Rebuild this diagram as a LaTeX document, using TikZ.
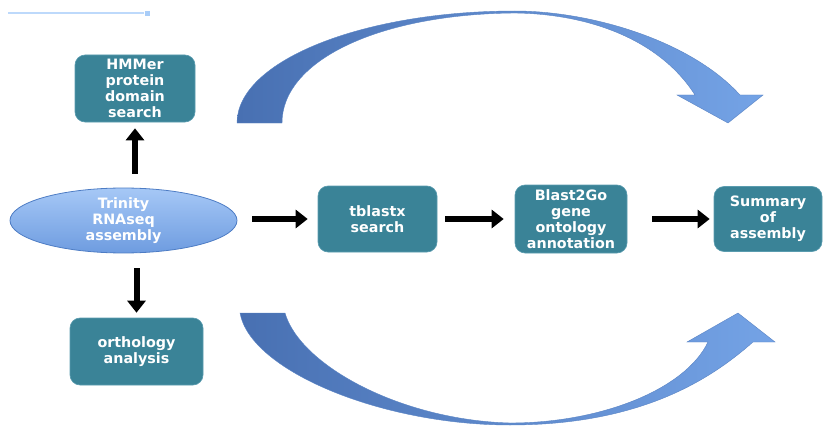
\documentclass[tikz,border=0pt]{standalone}
\usepackage{fontspec}
\setmainfont{DejaVu Sans}
\usetikzlibrary{shapes.geometric,arrows.meta,calc}
\definecolor{boxfill}{HTML}{3A8397}
\definecolor{boxedge}{HTML}{5A9CAF}
\definecolor{elltop}{HTML}{A6C8F6}
\definecolor{ellbot}{HTML}{6E9CE0}
\definecolor{elledge}{HTML}{4D7CC4}
\definecolor{arrL}{HTML}{4870B2}
\definecolor{arrR}{HTML}{74A3E6}
\definecolor{arrEdge}{HTML}{5A84C4}
\definecolor{topline}{HTML}{BDD9FB}
\definecolor{topsq}{HTML}{A9CDF8}
\begin{document}
\begin{tikzpicture}[x=1pt,y=-1pt,
  txt/.style={text=white, font=\bfseries\fontsize{14.3}{16}\selectfont, align=center, inner sep=0pt},
  box/.style={txt, draw=boxedge, fill=boxfill, line width=0.6pt, rounded corners=10pt},
  blk/.style={draw=black, line width=6pt, -{Triangle[width=18pt,length=12pt]}},
  band/.style={left color=arrL, right color=arrR, draw=arrEdge, line width=0.4pt}]
\useasboundingbox (0,0) rectangle (828,428);

% top-left line
\draw[line width=2pt, topline] (8,13.5) -- (144,13.5);
\fill[topsq] (145,11) rectangle (150,16);

% curved arrows
\shade[band]
 (237,123) .. controls (237,61) and (362,11) .. (515,11)
 .. controls (590,11) and (690,40) .. (740,95)
 -- (763,95) -- (728,123) -- (677,95) -- (695,95)
 .. controls (660,40) and (590,14) .. (515,13)
 .. controls (380,14) and (282,60) .. (282,123) -- cycle;
\shade[band]
 (240,313) .. controls (250,370) and (380,425) .. (510,425)
 .. controls (640,425) and (710,380) .. (753,342)
 -- (775,342) -- (738,313) -- (687,342) -- (708,342)
 .. controls (685,390) and (600,423) .. (510,423)
 .. controls (400,420) and (300,365) .. (285,313) -- cycle;

% nodes
\node[box, minimum width=120pt, minimum height=67pt] (hm) at (135,88.5) {HMMer\\protein\\domain\\search};
\node[txt, ellipse, top color=elltop, bottom color=ellbot, draw=elledge, line width=0.8pt,
      minimum width=227pt, minimum height=55pt] (ell) at (123.5,220.5) {Trinity\\RNAseq\\assembly};
\node[box, minimum width=133pt, minimum height=67pt] (orth) at (136.5,351.5) {orthology\\analysis};
\node[box, minimum width=119pt, minimum height=66pt] (tb) at (377.5,219) {tblastx\\search};
\node[box, minimum width=112pt, minimum height=68pt] (bg) at (571,219) {Blast2Go\\gene\\ontology\\annotation};
\node[box, minimum width=108pt, minimum height=65pt] (sm) at (768,219) {Summary\\of\\assembly};

% black arrows
\draw[blk] ([yshift=14pt]hm.south |- ell.north) -- ([yshift=-6pt]hm.south);
\draw[blk] ([yshift=-15pt]orth.north |- ell.south) -- ([yshift=5pt]orth.north);
\draw[blk, shorten <=15pt, shorten >=10pt] (ell.east |- tb.west) -- (tb.west);
\draw[blk, shorten <=8pt, shorten >=11pt] (tb) -- (bg);
\draw[blk, shorten <=25pt, shorten >=4pt] (bg.east) -- (sm.west);
\end{tikzpicture}
\end{document}
